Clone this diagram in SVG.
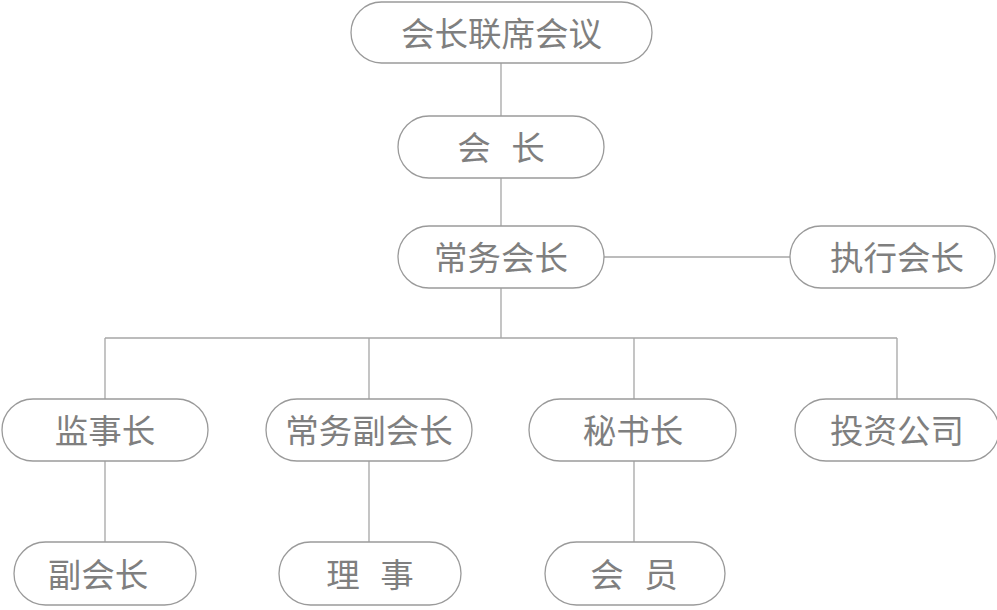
<svg xmlns="http://www.w3.org/2000/svg" width="997" height="610" viewBox="0 0 997 610">
<style>
.box{fill:#fff;stroke:#9a9a9a;stroke-width:1.3}
.lbl{font-family:"Noto Sans CJK SC","Noto Sans",sans-serif;font-size:33.5px;fill:#7f7f7f;text-anchor:middle;dominant-baseline:central}
.sp{word-spacing:13px}
.edge{stroke:#a6a6a6;stroke-width:1.3;fill:none}
</style>
<rect width="997" height="610" fill="#fff"/>
<g id="connectors">
<path class="edge" d="M501 63V116M501 178V226M604 257H790M501 288V338M105 338H897M105 338V399M369 338V399M634 338V399M897 338V399M105 461V542M369 461V542M634 461V542"/>
</g>
<g id="n1"><rect class="box" x="351" y="2" width="301" height="61" rx="30.5"/><text class="lbl" x="501.5" y="31">会长联席会议</text></g>
<g id="n2"><rect class="box" x="398" y="116" width="206" height="62" rx="31"/><text class="lbl sp" x="501" y="145">会 长</text></g>
<g id="n3"><rect class="box" x="398" y="226" width="206" height="62" rx="31"/><text class="lbl" x="501" y="255">常务会长</text></g>
<g id="n4"><rect class="box" x="790" y="226" width="205" height="62" rx="31"/><text class="lbl" x="897" y="255">执行会长</text></g>
<g id="n5"><rect class="box" x="2" y="399" width="206" height="62" rx="31"/><text class="lbl" x="105" y="428">监事长</text></g>
<g id="n6"><rect class="box" x="266" y="399" width="206" height="62" rx="31"/><text class="lbl" x="369" y="428">常务副会长</text></g>
<g id="n7"><rect class="box" x="529" y="399" width="207" height="62" rx="31"/><text class="lbl" x="633" y="428">秘书长</text></g>
<g id="n8"><rect class="box" x="795" y="399" width="204" height="62" rx="31"/><text class="lbl" x="897" y="428">投资公司</text></g>
<g id="n9"><rect class="box" x="14" y="542" width="182" height="63" rx="31.5"/><text class="lbl" x="98" y="572">副会长</text></g>
<g id="n10"><rect class="box" x="279" y="542" width="182" height="63" rx="31.5"/><text class="lbl sp" x="370" y="572">理 事</text></g>
<g id="n11"><rect class="box" x="545" y="542" width="180" height="63" rx="31.5"/><text class="lbl sp" x="634" y="572">会 员</text></g>
</svg>
